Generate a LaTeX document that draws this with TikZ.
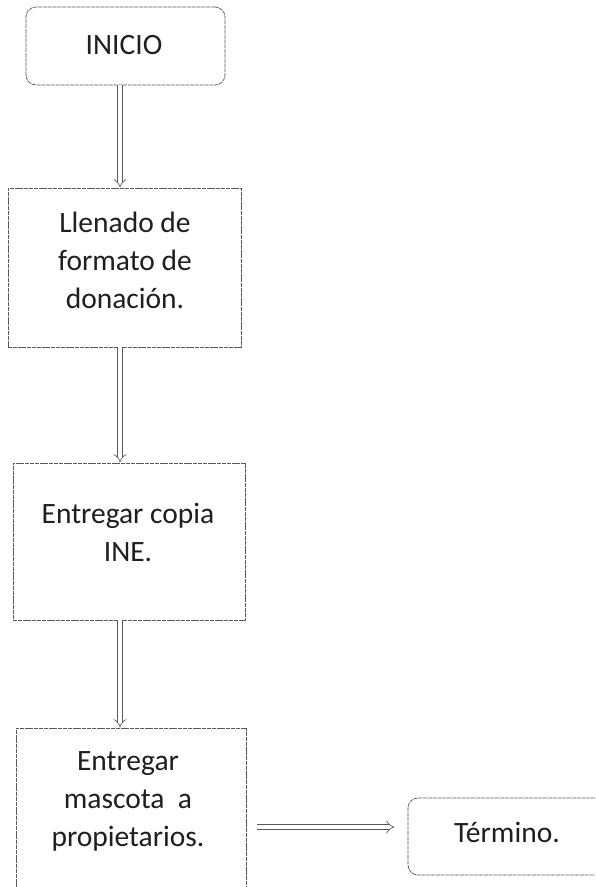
\documentclass[tikz,border=0pt]{standalone}
\usepackage{fontspec}
\setmainfont{Carlito}
\usetikzlibrary{arrows.meta}
\begin{document}
\begin{tikzpicture}[x=1pt,y=-1pt,
  boxline/.style={draw=black!65, line width=0.7pt, dash pattern=on 4pt off 0.8pt},
  stepbox/.style={boxline, rectangle, inner sep=0pt},
  termbox/.style={boxline, rectangle, rounded corners=10pt, inner sep=0pt},
  txt/.style={align=center, inner sep=0pt, text=black!88, font=\fontsize{29.5}{38}\selectfont},
  conn/.style={draw=black!65, line width=0.6pt, double, double distance=4pt, -{Implies}}
]
\useasboundingbox (0,0) rectangle (595,887);
\clip (0,0) rectangle (595,887);
\fill[white] (0,0) rectangle (595,887);

% boxes
\node[termbox, minimum width=199, minimum height=78] (b1) at (125.5,46) {};
\node[txt] (t1) at (124,45) {INICIO};

\node[stepbox, minimum width=233, minimum height=159] (b2) at (124.5,267.5) {};
\node[txt] (t2) at (125,260) {Llenado de\\formato de\\donación.};

\node[stepbox, minimum width=232, minimum height=157] (b3) at (129,541.5) {};
\node[txt] (t3) at (128,532) {Entregar copia\\INE.};

\node[stepbox, minimum width=230, minimum height=167] (b4) at (131,811.5) {};
\node[txt] (t4) at (128,801) {Entregar\\mascota\ \ a\\propietarios.};

\node[termbox, minimum width=202, minimum height=77] (b5) at (509,836.5) {};
\node[txt] (t5) at (507,832) {Término.};

% connector columns
\coordinate (cx) at (120,0);
\coordinate (my) at (0,827);

\draw[conn] (b1.south -| cx) -- (b2.north -| cx);
\draw[conn] (b2.south -| cx) -- (b3.north -| cx);
\draw[conn] (b3.south -| cx) -- (b4.north -| cx);
\draw[conn, shorten <=11pt, shorten >=13pt] (b4.east |- my) -- (b5.west |- my);
\end{tikzpicture}
\end{document}
